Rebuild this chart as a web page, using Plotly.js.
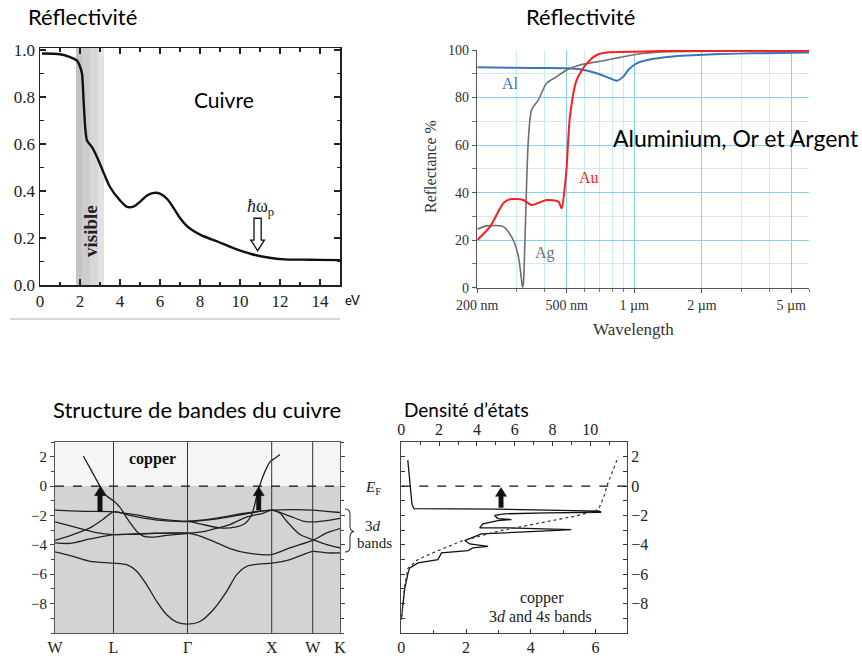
<!DOCTYPE html>
<html><head><meta charset="utf-8">
<script src="https://cdn.plot.ly/plotly-3.0.1.min.js"></script>
<style>html,body{margin:0;padding:0;background:#fff}</style>
</head><body><div id="chart" style="width:862px;height:662px"></div>
<script>
// ---------- Panel 1 : copper reflectivity vs photon energy ----------
const cuEnergy  = [0.1,1.0,1.5,1.85,2.0,2.1,2.18,2.26,2.35,2.6,2.85,3.2,3.5,4.0,4.36,4.7,5.0,5.37,5.7,6.0,6.37,6.7,7.0,7.3,7.55,8.05,8.9,9.7,10.56,11.4,12.24,13.1,13.9,15.0];
const cuReflect = [0.985,0.982,0.97,0.955,0.93,0.9,0.785,0.67,0.615,0.587,0.545,0.474,0.417,0.36,0.332,0.335,0.354,0.382,0.392,0.389,0.365,0.325,0.285,0.255,0.237,0.212,0.184,0.156,0.132,0.117,0.109,0.108,0.107,0.106];

// ---------- Panel 2 : reflectance of Al, Au, Ag vs wavelength (nm) ----------
const alWave = [200,300,400,500,573,680,780,835,894,940,1025,1216,1443,1711,2408,3388,6000];
const alRefl = [92.7,92.5,92.4,92.3,91.9,90.2,88.1,87.1,88.8,91.6,94.4,96.3,97.2,97.7,98.3,98.6,98.9];
const auWave = [200,228,261,280,320,349,407,459,475,490,500,517,554,614,680,754,1000,1711,6000];
const auRefl = [20.1,25.7,35.5,37.2,36.9,34.8,36.9,36.2,33.4,42,50.9,71.9,87.4,94.4,97.9,98.9,99.3,99.7,99.7];
const agWave = [200,220,261,289,305,315,318,321,326,337.5,349,374,407,451,500,573,728,864,1097,1443,2400,6000];
const agRefl = [24.6,26,25.7,20.1,13,3,0.2,2,20.1,62.1,74.8,79,86,88.8,91.6,93.7,95.5,96.9,98.6,99.3,99.5,99.6];
const p2TickVals = [200,500,1000,2000,5000];
const p2TickText = ['200 nm','500 nm','1 µm','2 µm','5 µm'];
const p2MinorVals = [300,400,600,700,800,900,3000,4000,6000];

// ---------- Panel 3 : copper band structure ----------
const symK = [0,58.5,132.5,216.7,257.7,285];
const symLabels = ['W','L','Γ','X','W','K'];
const energyTicks = [2,0,-2,-4,-6,-8];
const bandTopK = [0,30,58.5,80,100,120,132.5,160,190,216.7,240,257.7,271,285];
const bandTopE = [-1.64,-1.72,-1.75,-1.95,-2.2,-2.35,-2.39,-2.2,-1.85,-1.64,-1.6,-1.64,-1.72,-1.8];
const bandBK = [0,18,35,48,58.5,75,100,132.5,160,190,216.7,235,248,257.7,271.7,285];
const bandBE = [-3.7,-3.3,-2.85,-2.27,-1.75,-2.0,-2.3,-2.42,-2.25,-1.9,-1.64,-2.05,-2.38,-2.44,-2.35,-2.2];
const bandCK = [0,20,40,58.5,80,100,132.5,150,160,175,192,208,216.7,225,231.7,245,257.7,271.7,285];
const bandCE = [-2.44,-2.8,-3.15,-3.3,-3.25,-3.2,-3.2,-3.08,-2.9,-2.62,-2.1,-1.85,-1.64,-1.85,-2.39,-3.3,-3.64,-3.98,-4.2];
const bandDK = [0,15,35,58.5,80,100,132.5,145,158,175,192,216.7,235,257.7,271.7,285];
const bandDE = [-3.87,-3.9,-3.6,-3.3,-3.28,-3.22,-3.2,-3.4,-3.75,-4.25,-4.55,-4.66,-4.2,-3.7,-3.19,-2.9];
const bandLowK = [0,18,35,58.5,71.7,81.7,91.7,101.7,111.7,121.7,132.5,145,158.3,171.7,181.7,191.7,205,216.7,235,248.3,257.7,271.7,285];
const bandLowE = [-4.48,-4.78,-5.12,-5.24,-5.35,-5.8,-6.72,-7.85,-8.76,-9.26,-9.4,-9.22,-8.42,-7.17,-6.03,-5.46,-5.3,-5.24,-5.0,-4.66,-4.44,-4.55,-4.55];
const bandSpLK = [28.3,36.7,45,51.7,58.5,65,71.7,81.7,88.3,98.3,111.7,132.5];
const bandSpLE = [2.05,1.02,0,-0.68,-1.0,-1.45,-2.16,-3.07,-3.41,-3.48,-3.35,-3.23];
const bandSpRK = [132.5,150,165,180,190,197,202,205,210,215,220,225];
const bandSpRE = [-2.39,-2.65,-2.85,-2.8,-2.55,-1.9,-0.6,0.1,1.0,1.65,1.9,2.15];

// ---------- Panel 4 : copper density of states ----------
const dosE   = [1.77,-0.57,-1.25,-1.53,-1.57,-1.71,-1.78,-1.82,-1.89,-2.0,-2.21,-2.28,-2.35,-2.57,-2.85,-2.85,-2.91,-2.96,-3.07,-3.19,-3.25,-3.71,-3.94,-4.1,-4.21,-4.39,-4.55,-5.0,-5.23,-5.57,-5.91,-7.05,-7.96,-9.1];
const dosVal = [0.2,0.31,0.33,0.39,2.98,6.12,6.17,4.53,3.19,2.88,2.98,3.4,2.98,2.52,2.42,3.29,4.32,5.25,4.32,3.29,2.47,1.96,2.11,2.68,2.21,2.06,1.24,1.13,0.52,0.26,0.21,0.1,0.06,0.0];
const intE   = [-8.9,-6.8,-5.6,-5.0,-4.5,-3.75,-3.07,-2.5,-2.05,-1.71,-1.55,-0.57,0,2.0];
const intVal = [0.02,0.18,0.35,0.88,1.75,3.17,5.12,7.41,9.17,10.23,10.45,10.76,10.87,11.48];

// ---------- helpers (layout positions in pixels -> paper) ----------
const W = 862, H = 662;
const px = x => x / W, py = y => 1 - y / H;
const SERIF = 'Liberation Serif', SANS = 'Lato';

function line(x, y, xa, ya, color, width, extra) {
  return Object.assign({x: x, y: y, xaxis: xa, yaxis: ya, mode: 'lines', hoverinfo: 'skip',
    line: {color: color, width: width, shape: 'spline', smoothing: 0.7}}, extra || {});
}

const traces = [
  line(cuEnergy, cuReflect, 'x', 'y', '#111', 2.4),
  line(alWave, alRefl, 'x2', 'y2', '#3b76bd', 2),
  line(agWave, agRefl, 'x2', 'y2', '#6f6f6f', 1.6),
  line(auWave, auRefl, 'x2', 'y2', '#ff1c1c', 2),
  line(bandTopK, bandTopE, 'x3', 'y3', '#222', 1.3),
  line(bandBK, bandBE, 'x3', 'y3', '#222', 1.3),
  line(bandCK, bandCE, 'x3', 'y3', '#222', 1.3),
  line(bandDK, bandDE, 'x3', 'y3', '#222', 1.3),
  line(bandLowK, bandLowE, 'x3', 'y3', '#222', 1.3),
  line(bandSpLK, bandSpLE, 'x3', 'y3', '#222', 1.3),
  line(bandSpRK, bandSpRE, 'x3', 'y3', '#222', 1.3),
  {x: dosVal, y: dosE, xaxis: 'x4', yaxis: 'y4', mode: 'lines', hoverinfo: 'skip', line: {color: '#111', width: 1.3}},
  {x: intVal, y: intE, xaxis: 'x5', yaxis: 'y4', mode: 'lines', hoverinfo: 'skip', line: {color: '#333', width: 1.2, dash: 'dot'}}
];

const serifTick = (s, c) => ({family: SERIF, size: s, color: c || '#222'});

const layout = {
  width: W, height: H, margin: {l: 0, r: 0, t: 0, b: 0},
  paper_bgcolor: '#fff', plot_bgcolor: 'rgba(0,0,0,0)', showlegend: false,
  xaxis: {domain: [px(40), px(340)], range: [0, 15], anchor: 'y', dtick: 2, tick0: 0,
    ticks: 'inside', ticklen: 6, tickwidth: 1.2, tickcolor: '#222',
    minor: {ticks: 'inside', dtick: 1, ticklen: 3.5, tickcolor: '#222'},
    showline: true, linecolor: '#222', linewidth: 1.5, mirror: 'allticks',
    showgrid: false, zeroline: false, tickfont: serifTick(17)},
  yaxis: {domain: [py(285), py(48)], range: [0, 1.0085], anchor: 'x', dtick: 0.2, tickformat: '.1f',
    ticks: 'inside', ticklen: 6, tickwidth: 1.2, tickcolor: '#222',
    minor: {ticks: 'inside', dtick: 0.1, ticklen: 3.5, tickcolor: '#222'},
    showline: true, linecolor: '#222', linewidth: 1.5, mirror: 'allticks',
    showgrid: false, zeroline: false, tickfont: serifTick(17)},
  xaxis2: {domain: [px(477.3), px(809)], type: 'log', range: [Math.log10(200), Math.log10(6000)], anchor: 'y2',
    tickmode: 'array', tickvals: p2TickVals, ticktext: p2TickText,
    ticks: 'outside', ticklen: 4, tickcolor: '#555',
    showgrid: true, gridcolor: '#86d2e8', gridwidth: 1,
    minor: {tickmode: 'array', tickvals: p2MinorVals, ticks: 'outside', ticklen: 3, tickcolor: '#777', showgrid: true, gridcolor: '#cdebf5', gridwidth: 1},
    showline: true, linecolor: '#555', linewidth: 1.5, zeroline: false, tickfont: serifTick(14, '#333')},
  yaxis2: {domain: [py(287.7), py(50)], range: [0, 100], anchor: 'x2', dtick: 20,
    ticks: 'outside', ticklen: 4, tickcolor: '#555',
    showgrid: true, gridcolor: '#86d2e8', gridwidth: 1,
    minor: {dtick: 10, ticks: 'outside', ticklen: 4, tickcolor: '#777', showgrid: true, gridcolor: '#cdebf5', gridwidth: 1},
    showline: true, linecolor: '#555', linewidth: 1.5, zeroline: false, tickfont: serifTick(14, '#333')},
  xaxis3: {domain: [px(55), px(340)], range: [0, 285], anchor: 'y3',
    tickmode: 'array', tickvals: symK, ticktext: symLabels, ticks: '',
    showline: true, linecolor: '#555', linewidth: 1, mirror: true,
    showgrid: false, zeroline: false, tickfont: serifTick(16)},
  yaxis3: {domain: [py(633), py(442)], range: [-10, 3], anchor: 'x3',
    tickmode: 'array', tickvals: energyTicks,
    ticks: 'outside', ticklen: 4, tickcolor: '#444',
    minor: {dtick: 1, ticks: 'outside', ticklen: 3, tickcolor: '#444'},
    showline: true, linecolor: '#555', linewidth: 1, mirror: 'allticks',
    showgrid: false, zeroline: false, tickfont: serifTick(15)},
  xaxis4: {domain: [px(401.3), px(627)], range: [0, 6.97], anchor: 'y4', dtick: 2,
    ticks: 'inside', ticklen: 4, tickcolor: '#333',
    minor: {dtick: 1, ticks: 'inside', ticklen: 3, tickcolor: '#333'},
    showline: true, linecolor: '#444', linewidth: 1,
    showgrid: false, zeroline: false, tickfont: serifTick(16)},
  xaxis5: {overlaying: 'x4', side: 'top', range: [0, 11.94], anchor: 'y4', dtick: 2,
    ticks: 'inside', ticklen: 4, tickcolor: '#333',
    minor: {dtick: 1, ticks: 'inside', ticklen: 3, tickcolor: '#333'},
    showline: true, linecolor: '#444', linewidth: 1,
    showgrid: false, zeroline: false, tickfont: serifTick(16)},
  yaxis4: {domain: [py(633), py(442)], range: [-10, 3], anchor: 'x4', side: 'right',
    tickmode: 'array', tickvals: energyTicks,
    ticks: 'inside', ticklen: 4, tickcolor: '#333',
    minor: {dtick: 1, ticks: 'inside', ticklen: 3, tickcolor: '#333'},
    showline: true, linecolor: '#444', linewidth: 1, mirror: 'allticks',
    showgrid: false, zeroline: false, tickfont: serifTick(16)},
  shapes: [],
  annotations: []
};

const S = layout.shapes, A = layout.annotations;
// visible band (panel 1)
[[1.8, 2.1, '#c4c4c4'], [2.1, 2.5, '#cdcdcd'], [2.5, 2.9, '#d7d7d7'], [2.9, 3.2, '#e2e2e2']].forEach(b =>
  S.push({type: 'rect', xref: 'x', yref: 'y', x0: b[0], x1: b[1], y0: 0, y1: 1.0085, fillcolor: b[2], line: {width: 0}, layer: 'below'}));
// hollow arrow at plasma energy
const wpE = 10.88;
S.push({type: 'path', xref: 'x', yref: 'y', layer: 'above', line: {color: '#111', width: 1.3}, fillcolor: '#fff',
  path: `M ${wpE-0.18} 0.284 L ${wpE+0.18} 0.284 L ${wpE+0.18} 0.191 L ${wpE+0.34} 0.191 L ${wpE} 0.146 L ${wpE-0.34} 0.191 L ${wpE-0.18} 0.191 Z`});
// separator line under panel 1
S.push({type: 'line', xref: 'paper', yref: 'paper', x0: px(10), x1: px(340), y0: py(319), y1: py(319), line: {color: '#c9c9c9', width: 1.5}});
// panel 3 background
S.push({type: 'rect', xref: 'x3', yref: 'y3', x0: 0, x1: 285, y0: -10, y1: 0, fillcolor: '#d3d3d3', line: {width: 0}, layer: 'below'});
S.push({type: 'rect', xref: 'x3', yref: 'y3', x0: 0, x1: 285, y0: 0, y1: 3, fillcolor: '#f5f5f5', line: {width: 0}, layer: 'below'});
symK.slice(1, 5).forEach(k =>
  S.push({type: 'line', xref: 'x3', yref: 'y3', x0: k, x1: k, y0: -10, y1: 3, line: {color: '#333', width: 1}}));
S.push({type: 'line', xref: 'x3', yref: 'y3', x0: 0, x1: 285, y0: 0, y1: 0, line: {color: '#111', width: 1.2, dash: 'dash'}});
S.push({type: 'line', xref: 'x4', yref: 'y4', x0: 0, x1: 6.97, y0: 0, y1: 0, line: {color: '#111', width: 1.2, dash: 'dash'}});
// brace for 3d bands
S.push({type: 'path', xref: 'paper', yref: 'paper', line: {color: '#333', width: 1.1},
  path: `M ${px(345)} ${py(509)} Q ${px(350)} ${py(509)} ${px(350)} ${py(514)} L ${px(350)} ${py(526)} Q ${px(350)} ${py(531)} ${px(354)} ${py(531.5)} Q ${px(350)} ${py(532)} ${px(350)} ${py(537)} L ${px(350)} ${py(547)} Q ${px(350)} ${py(552)} ${px(345)} ${py(552)}`});

// thick black arrows (excitation to E_F), drawn as filled shapes
function thickArrow(xr, yr, x, y0, y1, halfShaft, halfHead, headLen) {
  const yh = y1 - headLen;
  S.push({type: 'path', xref: xr, yref: yr, fillcolor: '#111', line: {color: '#111', width: 0.5},
    path: `M ${x-halfShaft} ${y0} L ${x+halfShaft} ${y0} L ${x+halfShaft} ${yh} L ${x+halfHead} ${yh} L ${x} ${y1} L ${x-halfHead} ${yh} L ${x-halfShaft} ${yh} Z`});
}
thickArrow('x3', 'y3', 45, -1.72, -0.05, 2.2, 5.5, 0.6);
thickArrow('x3', 'y3', 203.7, -1.64, -0.05, 2.2, 5.5, 0.6);
thickArrow('x4', 'y4', 3.08, -1.45, -0.1, 0.068, 0.17, 0.6);

function txt(x, y, text, font, extra) {
  A.push(Object.assign({xref: 'paper', yref: 'paper', x: px(x), y: py(y), text: text, showarrow: false,
    xanchor: 'center', yanchor: 'middle', font: font}, extra || {}));
}
const sans = (s) => ({family: SANS, size: s, color: '#000'});
txt(82, 16, 'Réflectivité', sans(22));
txt(580, 16, 'Réflectivité', sans(22));
txt(224, 100, 'Cuivre', sans(21));
txt(736, 138, 'Aluminium, Or et Argent', sans(23));
txt(197, 409, 'Structure de bandes du cuivre', sans(22));
txt(466, 409, 'Densité d’états', sans(19));
txt(352, 300, 'eV', sans(13));
txt(91, 231, '<b>visible</b>', {family: SERIF, size: 19, color: '#222'}, {textangle: -90});
txt(260, 207, '<i>ħ</i>ω<sub>p</sub>', {family: SERIF, size: 18, color: '#222'});
txt(430, 167, 'Reflectance %', {family: SERIF, size: 16, color: '#333'}, {textangle: -90});
txt(633, 329, 'Wavelength', {family: SERIF, size: 17, color: '#333'});
txt(510, 83, 'Al', {family: SERIF, size: 16, color: '#3b76bd'});
txt(589, 177, 'Au', {family: SERIF, size: 16, color: '#ff1c1c'});
txt(545, 253, 'Ag', {family: SERIF, size: 16, color: '#6f6f6f'});
txt(152, 459, '<b>copper</b>', {family: SERIF, size: 16, color: '#111'});
txt(373, 488, '<i>E</i><sub>F</sub>', {family: SERIF, size: 15, color: '#222'});
txt(373, 526, '3<i>d</i>', {family: SERIF, size: 15, color: '#222'});
txt(374, 543, 'bands', {family: SERIF, size: 15, color: '#222'});
txt(542, 598, 'copper', {family: SERIF, size: 16, color: '#222'});
txt(540, 616, '3<i>d</i> and 4<i>s</i> bands', {family: SERIF, size: 16, color: '#222'});

Plotly.newPlot('chart', traces, layout, {staticPlot: true});
</script></body></html>
